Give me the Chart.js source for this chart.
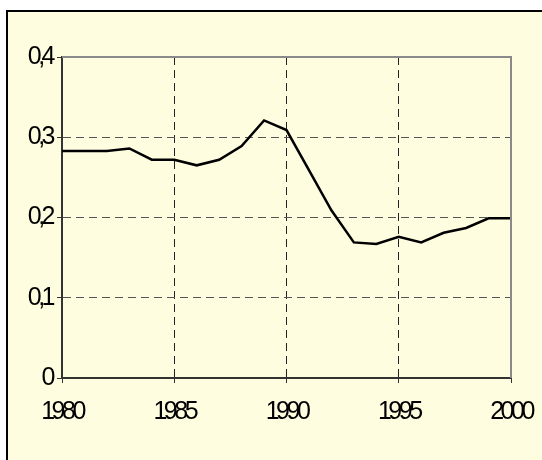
<!DOCTYPE html>
<html>
<head>
<meta charset="utf-8">
<script src="https://cdn.jsdelivr.net/npm/chart.js@4/dist/chart.umd.min.js"></script>
<style>
    html, body { margin: 0; padding: 0; background: #ffffff; }
    #wrap { position: relative; width: 542px; height: 460px; overflow: hidden; }
    #panel {
        position: absolute; left: 6px; top: 10px; right: 0; bottom: 0;
        background: #fffde0;
        border-left: 2px solid #000;
        border-top: 2px solid #000;
    }
    #chart { position: absolute; left: 0; top: 0; }
</style>
</head>
<body>
<div id="wrap">
    <div id="panel"></div>
    <canvas id="chart" width="542" height="460"></canvas>
</div>
<script>
"use strict";

var years = [1980, 1981, 1982, 1983, 1984, 1985, 1986, 1987, 1988, 1989, 1990,
             1991, 1992, 1993, 1994, 1995, 1996, 1997, 1998, 1999, 2000];
var values = [0.283, 0.283, 0.283, 0.286, 0.272, 0.272, 0.265, 0.272, 0.289, 0.321, 0.309,
              0.259, 0.209, 0.169, 0.167, 0.176, 0.169, 0.181, 0.187, 0.199, 0.199];
var yTicks = [0, 0.1, 0.2, 0.3, 0.4];
var xTicks = [1980, 1985, 1990, 1995, 2000];

var tickFont = { family: "'Liberation Sans', Arial, sans-serif", size: 25 };

// tight letter spacing, the digits nearly touch in the original
var tightText = {
    id: 'tightText',
    beforeDraw: function (chart) {
        chart.ctx.letterSpacing = '-3.5px';
    }
};

// solid grey frame on top and right of the plot area
var plotFrame = {
    id: 'plotFrame',
    afterDatasetsDraw: function (chart) {
        var a = chart.chartArea;
        var ctx = chart.ctx;
        ctx.save();
        ctx.strokeStyle = '#8a8a8a';
        ctx.lineWidth = 2;
        ctx.beginPath();
        ctx.moveTo(a.left, a.top);
        ctx.lineTo(a.right, a.top);
        ctx.lineTo(a.right, a.bottom);
        ctx.stroke();
        ctx.restore();
    }
};

new Chart(document.getElementById('chart'), {
    type: 'line',
    data: {
        datasets: [{
            data: years.map(function (y, i) { return { x: y, y: values[i] }; }),
            borderColor: '#000000',
            borderWidth: 2.5,
            pointRadius: 0,
            tension: 0,
            fill: false
        }]
    },
    options: {
        responsive: false,
        animation: false,
        layout: { padding: { left: 0, top: 57, right: 31, bottom: 0 } },
        plugins: { legend: { display: false }, tooltip: { enabled: false } },
        scales: {
            x: {
                type: 'linear',
                min: 1980,
                max: 2000,
                afterBuildTicks: function (scale) {
                    scale.ticks = xTicks.map(function (v) { return { value: v }; });
                },
                afterFit: function (scale) {
                    scale.height = 82;
                    scale.paddingLeft = 0;
                    scale.paddingRight = 0;
                },
                ticks: {
                    font: tickFont,
                    color: '#000',
                    padding: 14,
                    maxRotation: 0,
                    autoSkip: false,
                    callback: function (v) { return String(v); }
                },
                grid: {
                    color: '#222',
                    lineWidth: 1,
                    tickLength: 5,
                    tickColor: '#333',
                    tickBorderDash: []
                },
                border: { color: '#333', width: 2, dash: [8, 5] }
            },
            y: {
                min: 0,
                max: 0.4,
                afterBuildTicks: function (scale) {
                    scale.ticks = yTicks.map(function (v) { return { value: v }; });
                },
                afterFit: function (scale) {
                    scale.width = 62;
                    scale.paddingTop = 0;
                    scale.paddingBottom = 0;
                },
                ticks: {
                    font: tickFont,
                    color: '#000',
                    padding: 5,
                    autoSkip: false,
                    callback: function (v) {
                        return v === 0 ? '0' : v.toFixed(1).replace('.', ',');
                    }
                },
                grid: {
                    color: '#555',
                    lineWidth: 1,
                    tickLength: 5,
                    tickColor: '#333',
                    tickBorderDash: []
                },
                border: { color: '#333', width: 2, dash: [8, 5] }
            }
        }
    },
    plugins: [tightText, plotFrame]
});
</script>
</body>
</html>
